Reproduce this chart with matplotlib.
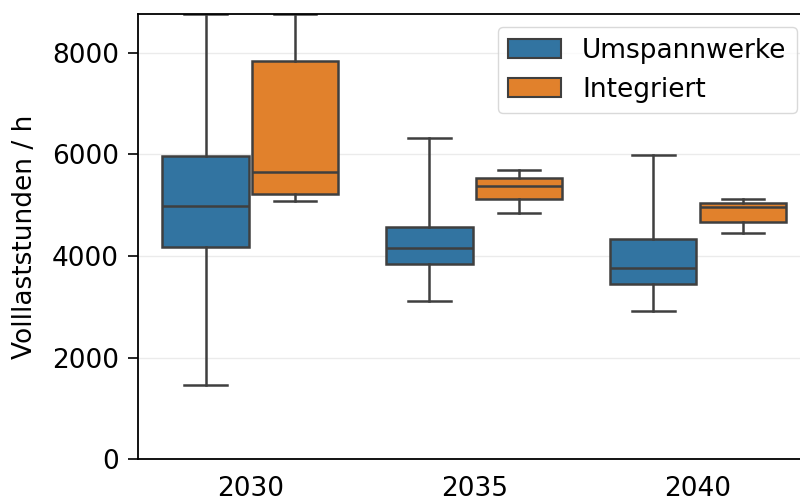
import matplotlib.pyplot as plt
from matplotlib.patches import Patch

years = ["2030", "2035", "2040"]
series = ["Umspannwerke", "Integriert"]
colors = ["#3274a1", "#e1812c"]

# box statistics per year: lower whisker, Q1, median, Q3, upper whisker
uw_low = [1457, 3115, 2925]
uw_q1 = [4171, 3837, 3449]
uw_med = [4983, 4163, 3771]
uw_q3 = [5973, 4564, 4341]
uw_high = [8760, 6315, 5986]

int_low = [5076, 4846, 4446]
int_q1 = [5213, 5115, 4675]
int_med = [5646, 5371, 4970]
int_q3 = [7841, 5534, 5042]
int_high = [8760, 5691, 5127]

yticks = [0, 2000, 4000, 6000, 8000]
ymax = 8760
line = "#3f3f3f"


def make_stats(low, q1, med, q3, high):
    return [dict(whislo=a, q1=b, med=c, q3=d, whishi=e, fliers=[])
            for a, b, c, d, e in zip(low, q1, med, q3, high)]


groups = [
    make_stats(uw_low, uw_q1, uw_med, uw_q3, uw_high),
    make_stats(int_low, int_q1, int_med, int_q3, int_high),
]

plt.rcParams["font.size"] = 19

fig = plt.figure(figsize=(8, 4.99), dpi=100)
ax = fig.add_axes([0.173, 0.0794, 0.8395, 0.8926])

offsets = [-0.2, 0.2]
for stats, off, col in zip(groups, offsets, colors):
    pos = [i + off for i in range(len(years))]
    ax.bxp(stats, positions=pos, widths=0.385, capwidths=0.19,
           showfliers=False, patch_artist=True,
           boxprops=dict(facecolor=col, edgecolor=line, linewidth=1.8),
           whiskerprops=dict(color=line, linewidth=1.8),
           capprops=dict(color=line, linewidth=1.8),
           medianprops=dict(color=line, linewidth=1.8))

ax.set_xlim(-0.5, len(years) - 0.5)
ax.set_ylim(0, ymax)
ax.set_xticks(range(len(years)))
ax.set_xticklabels(years)
ax.set_yticks(yticks)
ax.tick_params(axis="x", length=0, pad=12)
ax.tick_params(axis="y", length=7, width=1.2, pad=7)
ax.yaxis.grid(True, color="#ebebeb", linewidth=1)
ax.set_axisbelow(True)
for s in ax.spines.values():
    s.set_linewidth(1.3)

ax.set_ylabel("Volllaststunden / h", labelpad=10)

handles = [Patch(facecolor=c, edgecolor=line, linewidth=1.5) for c in colors]
ax.legend(handles, series, loc="upper right",
          bbox_to_anchor=(797 / 800, 1 - 27 / 499),
          bbox_transform=fig.transFigure, borderaxespad=0,
          edgecolor="#d0d0d0")

fig.savefig("out.png", dpi=100)
